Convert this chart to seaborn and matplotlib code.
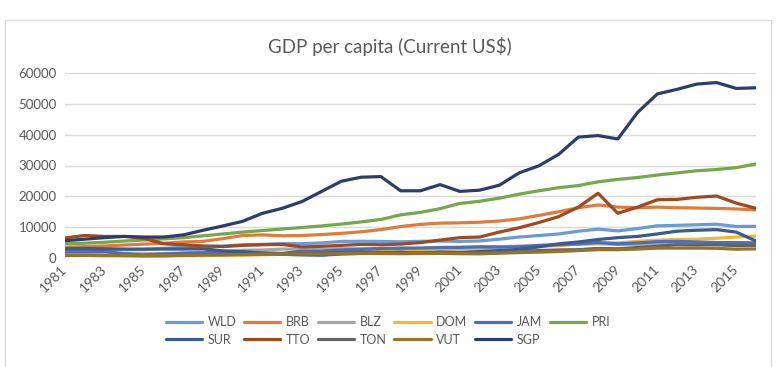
import numpy as np
import pandas as pd
import matplotlib
matplotlib.use('Agg')
import matplotlib.pyplot as plt
import seaborn as sns
from matplotlib.patches import Rectangle

years = list(range(1981, 2017))

wld = [2770, 2690, 2660, 2690, 2730, 3130, 3490, 3790, 3890, 4280, 4420, 4670, 4640, 4890, 5370, 5430, 5360, 5260,
       5400, 5490, 5380, 5530, 6110, 6800, 7280, 7800, 8680, 9360, 8790, 9540, 10440, 10590, 10780, 10950, 10230, 10260]
brb = [3500, 3700, 3900, 4200, 4500, 4800, 5200, 5400, 6300, 7300, 7500, 7200, 7300, 7600, 8000, 8500, 9200, 10200,
       10900, 11300, 11400, 11600, 12000, 12700, 13800, 15000, 16300, 17200, 16500, 16300, 16500, 16300, 16200, 16100, 15900, 15600]
blz = [1350, 1250, 1300, 1400, 1350, 1450, 1650, 1950, 2200, 2500, 2600, 2900, 2900, 2900, 3000, 3000, 3000, 3100,
       3200, 3400, 3500, 3600, 3700, 3850, 4000, 4250, 4450, 4650, 4400, 4450, 4600, 4800, 4850, 4900, 4900, 4800]
dom = [1300, 1400, 1500, 1100, 750, 800, 750, 750, 950, 900, 1050, 1200, 1350, 1500, 1700, 1900, 2050, 2200,
       2400, 2800, 2900, 3000, 2300, 2400, 3800, 4000, 4600, 4900, 4900, 5400, 5800, 6000, 6100, 6400, 6800, 7100]
jam = [2000, 2100, 2100, 1400, 1000, 1300, 1500, 1700, 1900, 2100, 1700, 1500, 2200, 2200, 2600, 2800, 3100, 3200,
       3200, 3400, 3400, 3600, 3500, 3600, 4100, 4300, 4600, 5000, 4600, 4900, 5300, 5400, 5200, 5000, 5000, 4900]
pri = [4600, 4800, 5100, 5500, 5800, 6200, 6600, 7200, 7800, 8400, 8900, 9400, 9900, 10400, 11000, 11700, 12500, 14000,
       14800, 16000, 17700, 18400, 19400, 20700, 21800, 22800, 23500, 24700, 25500, 26100, 26900, 27600, 28300, 28700, 29300, 30500]
sur = [3000, 3100, 3000, 2900, 2900, 2900, 2900, 3000, 2300, 2000, 1500, 1200, 1000, 900, 1300, 1500, 1700, 1900,
       1500, 1900, 1800, 2100, 2400, 2800, 3600, 4600, 5200, 6000, 6600, 7000, 7800, 8700, 9000, 9200, 8400, 5500]
tto = [6500, 7300, 7000, 7000, 6400, 4600, 4300, 3900, 3700, 4100, 4300, 4400, 3600, 3800, 4100, 4400, 4300, 4500,
       5000, 5800, 6600, 6800, 8400, 9800, 11500, 13400, 16500, 21000, 14500, 16500, 18900, 19000, 19700, 20100, 17800, 16100]
ton = [800, 850, 800, 750, 700, 750, 900, 1100, 1100, 1200, 1350, 1400, 1450, 1600, 1750, 1900, 1850, 1700,
       1750, 1800, 1600, 1600, 1800, 2100, 2400, 2600, 2700, 3100, 3000, 3400, 3800, 4300, 4200, 4300, 4000, 4100]
vut = [900, 850, 800, 850, 800, 750, 850, 1000, 1000, 1100, 1200, 1250, 1250, 1300, 1400, 1450, 1450, 1400,
       1450, 1500, 1400, 1350, 1550, 1750, 1900, 2100, 2400, 2700, 2700, 2900, 3200, 3200, 3200, 3150, 2850, 2950]
sgp = [5600, 6100, 6600, 7000, 6800, 6800, 7500, 9000, 10400, 11900, 14500, 16100, 18300, 21600, 24900, 26200, 26400, 21800,
       21800, 23800, 21600, 22000, 23600, 27600, 29900, 33600, 39200, 39700, 38600, 47200, 53200, 54700, 56400, 56900, 55000, 55200]

countries = ['WLD', 'BRB', 'BLZ', 'DOM', 'JAM', 'PRI', 'SUR', 'TTO', 'TON', 'VUT', 'SGP']
colors = ['#6A9BD3', '#E07B3C', '#A5A5A5', '#F0B92E', '#4A6FBF', '#74A84A',
          '#3A5C8C', '#9E4A1E', '#636363', '#94742C', '#2C3D6B']
values = [wld, brb, blz, dom, jam, pri, sur, tto, ton, vut, sgp]

df = pd.DataFrame({
    'year': years * len(countries),
    'gdp': [v for s in values for v in s],
    'country': [c for c in countries for _ in years],
})

sns.set_style('white')
plt.rcParams['font.family'] = ['Lato', 'DejaVu Sans']
text_col = '#595959'

fig = plt.figure(figsize=(7.76, 3.67), dpi=100)
ax = fig.add_axes([65 / 776, 1 - 258 / 367, 691 / 776, 185 / 367])

sns.lineplot(data=df, x='year', y='gdp', hue='country', hue_order=countries,
             palette=dict(zip(countries, colors)), linewidth=2.3, ax=ax, legend=False)

ax.set_xlim(1981, 2016)
ax.set_ylim(0, 60000)
ax.set_yticks(range(0, 60001, 10000))
ax.set_xticks(range(1981, 2016, 2))
ax.set_xticklabels([str(y) for y in range(1981, 2016, 2)], rotation=45, ha='right',
                   va='center', rotation_mode='anchor', color=text_col, fontsize=10)
ax.tick_params(axis='y', labelsize=9.5, labelcolor=text_col, length=0, pad=6)
ax.tick_params(axis='x', length=0, pad=7)
ax.yaxis.grid(True, color='#D9D9D9', linewidth=1)
ax.set_axisbelow(True)
for s in ax.spines.values():
    s.set_visible(False)
ax.set_xlabel('')
ax.set_ylabel('')

fig.text(390 / 776, 1 - 46 / 367, 'GDP per capita (Current US$)', ha='center', va='center',
         fontsize=13.5, color=text_col)

# chart frame
fig.patches.append(Rectangle((4.5 / 776, -0.05), 766 / 776, 1.05 - 19.5 / 367,
                             transform=fig.transFigure, fill=False, edgecolor='#D9D9D9', linewidth=0.8))

# legend, row-major order like the original
handles = [plt.Line2D([], [], color=c, linewidth=2.3) for c in colors]
order = [0, 6, 1, 7, 2, 8, 3, 9, 4, 10, 5]
leg = fig.legend([handles[i] for i in order], [countries[i] for i in order], ncol=6, loc='center',
                 bbox_to_anchor=(388 / 776, 1 - 331 / 367), frameon=False, fontsize=9,
                 handlelength=2.9, columnspacing=0.6, labelspacing=0.45, handletextpad=0.45)
for t in leg.get_texts():
    t.set_color(text_col)

fig.savefig('out.png', dpi=100)
